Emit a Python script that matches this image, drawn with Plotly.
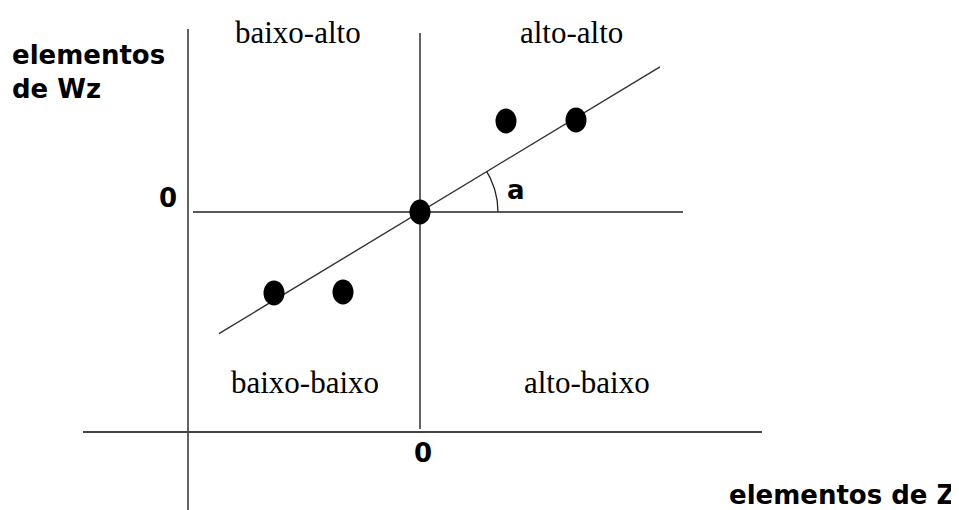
import numpy as np
import plotly.graph_objects as go

# pontos do diagrama de espalhamento de Moran (Z x Wz)
z = [-2.92, -1.54, 0.0, 1.72, 3.12]
wz = [-1.62, -1.6, 0.0, 1.82, 1.84]

# reta de regressao (inclinacao = indice de Moran)
slope = 0.605
line_z = [-4.02, 4.8]

quadrantes = ["baixo-alto", "alto-alto", "baixo-baixo", "alto-baixo"]

fig = go.Figure()

fig.add_trace(go.Scatter(x=line_z, y=[slope * v for v in line_z], mode="lines",
                         line=dict(color="#333333", width=1.4), hoverinfo="skip"))

# arco do angulo a
theta = np.linspace(0, np.arctan(slope), 40)
fig.add_trace(go.Scatter(x=1.56 * np.cos(theta), y=1.56 * np.sin(theta), mode="lines",
                         line=dict(color="#222222", width=1.3), hoverinfo="skip"))

line_style = dict(color="#222222", width=1.4)
# eixos externos
fig.add_shape(type="line", x0=-4.64, x1=-4.64, y0=3.66, y1=-6.2, line=line_style)
fig.add_shape(type="line", x0=-6.74, x1=6.84, y0=-4.4, y1=-4.4, line=dict(color="#444444", width=2))
# eixos internos (media zero)
fig.add_shape(type="line", x0=0, x1=0, y0=3.58, y1=-4.34, line=line_style)
fig.add_shape(type="line", x0=-4.54, x1=5.26, y0=0, y1=0, line=line_style)

for xv, yv in zip(z, wz):
    fig.add_shape(type="circle", xref="x", yref="y",
                  xsizemode="pixel", xanchor=xv, x0=-10.5, x1=10.5,
                  ysizemode="pixel", yanchor=yv, y0=-12.5, y1=12.5,
                  fillcolor="black", line=dict(width=0))

serif = dict(family="Liberation Serif", size=31, color="black")
bold = dict(family="DejaVu Sans", size=26, color="black", weight="bold")

quad_pos = [(-2.44, 3.6), (3.02, 3.6), (-2.3, -3.4), (3.34, -3.4)]
for label, (xv, yv) in zip(quadrantes, quad_pos):
    fig.add_annotation(x=xv, y=yv, text=label, showarrow=False, font=serif)

fig.add_annotation(x=-5.04, y=0.28, text="0", showarrow=False, font=bold)
fig.add_annotation(x=0.06, y=-4.82, text="0", showarrow=False, font=bold)
fig.add_annotation(x=1.92, y=0.44, text="a", showarrow=False, font=bold)
fig.add_annotation(x=-8.2, y=2.8, text="elementos<br>de Wz", showarrow=False,
                   xanchor="left", align="left", font=bold)
fig.add_annotation(x=10.74, y=-5.66, text="elementos de Z", showarrow=False,
                   xanchor="right", font=bold)

# a pagina tem margem de 8px no body: figura menor e faixas deslocadas
fig.update_layout(
    width=951, height=502,
    margin=dict(l=0, r=0, t=0, b=0),
    paper_bgcolor="white", plot_bgcolor="white",
    showlegend=False,
    xaxis=dict(range=[-8.24, 10.78], visible=False, fixedrange=True),
    yaxis=dict(range=[-5.96, 4.08], visible=False, fixedrange=True),
)

fig.write_html("out.html")
